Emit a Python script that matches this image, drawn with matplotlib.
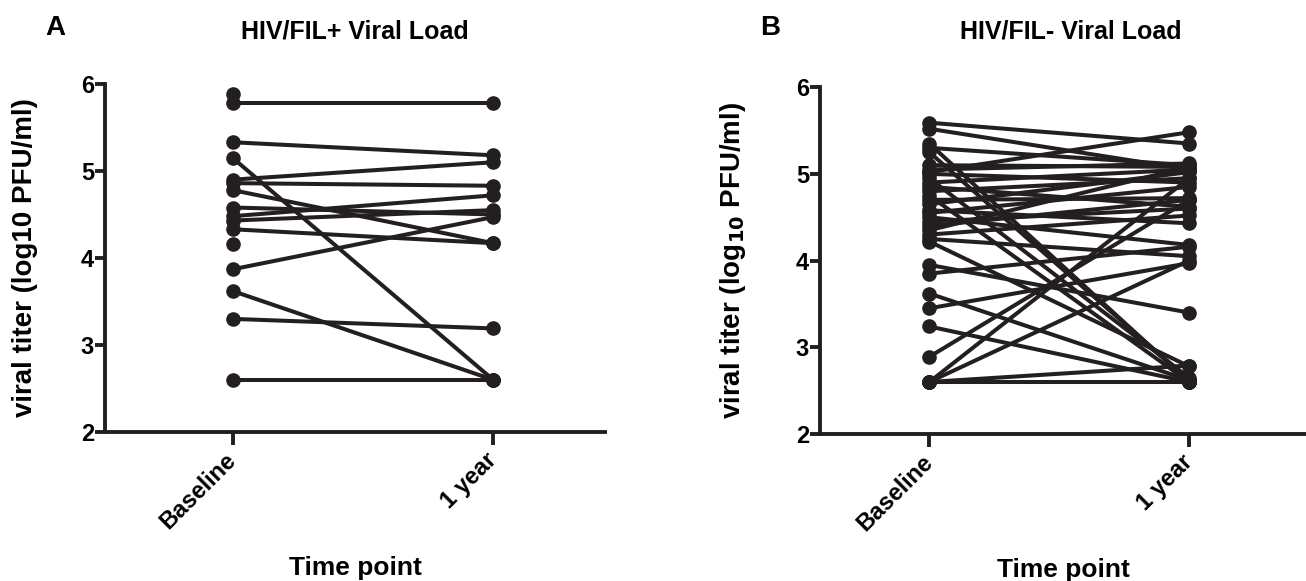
import matplotlib
matplotlib.use("Agg")
import matplotlib.pyplot as plt
import numpy as np

plt.rcParams["font.family"] = ["Liberation Sans", "DejaVu Sans"]
plt.rcParams["font.weight"] = "bold"

INK = "#231f20"
TIMEPOINTS = ["Baseline", "1 year"]

# Panel A: HIV/FIL+ (nan = no 1-year sample)
fil_pos_baseline = [5.88, 5.78, 5.33, 5.15, 4.90, 4.86, 4.78, 4.58, 4.48, 4.43, 4.33, 4.16, 3.87, 3.62, 3.30, 2.60]
fil_pos_year1 = [np.nan, 5.78, 5.18, 2.60, 5.10, 4.83, 4.17, 4.50, 4.72, 4.55, 4.17, np.nan, 4.47, 2.60, 3.19, 2.60]

# Panel B: HIV/FIL-
fil_neg_baseline = [5.59, 5.52, 5.35, 5.30, 5.25, 5.02, 5.10, 5.05, 5.00, 4.95, 4.90, 4.85,
                    4.80, 4.75, 4.70, 4.65, 4.58, 4.55, 4.50, 4.45, 4.40, 4.35, 4.30, 4.25,
                    4.22, 3.95, 3.85, 3.62, 3.45, 3.24, 2.89, 2.60, 2.60, 2.60, 2.60]
fil_neg_year1 = [5.35, 5.05, 2.60, 5.10, 2.62, 5.48, 5.08, 5.12, 4.90, 2.65, 5.05, 4.62,
                 4.95, 2.60, 4.72, 5.02, 4.43, 4.85, 4.18, 4.60, 4.70, 5.08, 4.52, 4.05,
                 2.78, 3.40, 4.16, 2.62, 3.97, 2.60, 4.70, 2.60, 4.95, 2.79, 4.00]


def draw_panel(ax, baseline, year1, title, ylabel, title_pad):
    for b, y in zip(baseline, year1):
        if np.isnan(y):
            ax.plot([0], [b], "o", color=INK, markersize=9.5, zorder=3)
        else:
            ax.plot([0, 1], [b, y], "o-", color=INK, linewidth=2.9,
                    markersize=9.5, zorder=3)

    ax.set_ylim(2, 6)
    ax.set_yticks([2, 3, 4, 5, 6])
    ax.set_xticks([0, 1])
    ax.set_xticklabels(TIMEPOINTS, rotation=45, ha="right", va="center",
                       rotation_mode="anchor")
    for s in ["top", "right"]:
        ax.spines[s].set_visible(False)
    for s in ["left", "bottom"]:
        ax.spines[s].set_linewidth(2.8)
        ax.spines[s].set_color(INK)
    ax.tick_params(axis="y", length=7, width=2.8, labelsize=17, color=INK, pad=1)
    ax.tick_params(axis="x", length=9, width=2.8, labelsize=17, color=INK, pad=9)
    for lab in ax.get_xticklabels() + ax.get_yticklabels():
        lab.set_fontweight("bold")
    ax.set_title(title, fontsize=18, fontweight="bold", pad=title_pad)
    ax.set_ylabel(ylabel, fontsize=20, fontweight="bold")
    ax.set_xlabel("Time point", fontsize=19, fontweight="bold", labelpad=16)


fig = plt.figure(figsize=(13.06, 5.81), dpi=100)
ax_a = fig.add_axes([0.0804, 0.2565, 0.383, 0.599])
ax_b = fig.add_axes([0.628, 0.253, 0.372, 0.597])

draw_panel(ax_a, fil_pos_baseline, fil_pos_year1, "HIV/FIL+ Viral Load",
           "viral titer (log10 PFU/ml)", 33)
draw_panel(ax_b, fil_neg_baseline, fil_neg_year1, "HIV/FIL- Viral Load",
           "viral titer (log$_{\\mathbf{10}}$ PFU/ml)", 35)
ax_a.set_xlim(-0.49, 1.43)
ax_b.set_xlim(-0.42, 1.45)
ax_a.yaxis.set_label_coords(-0.134, 0.5)
ax_b.yaxis.set_label_coords(-0.148, 0.5)
ax_b.title.set_x(0.515)

fig.text(55 / 1306, 1 - 28 / 581, "A", fontsize=20, fontweight="bold", ha="center", va="center")
fig.text(770 / 1306, 1 - 28 / 581, "B", fontsize=20, fontweight="bold", ha="center", va="center")

fig.savefig("out.png", dpi=100)
